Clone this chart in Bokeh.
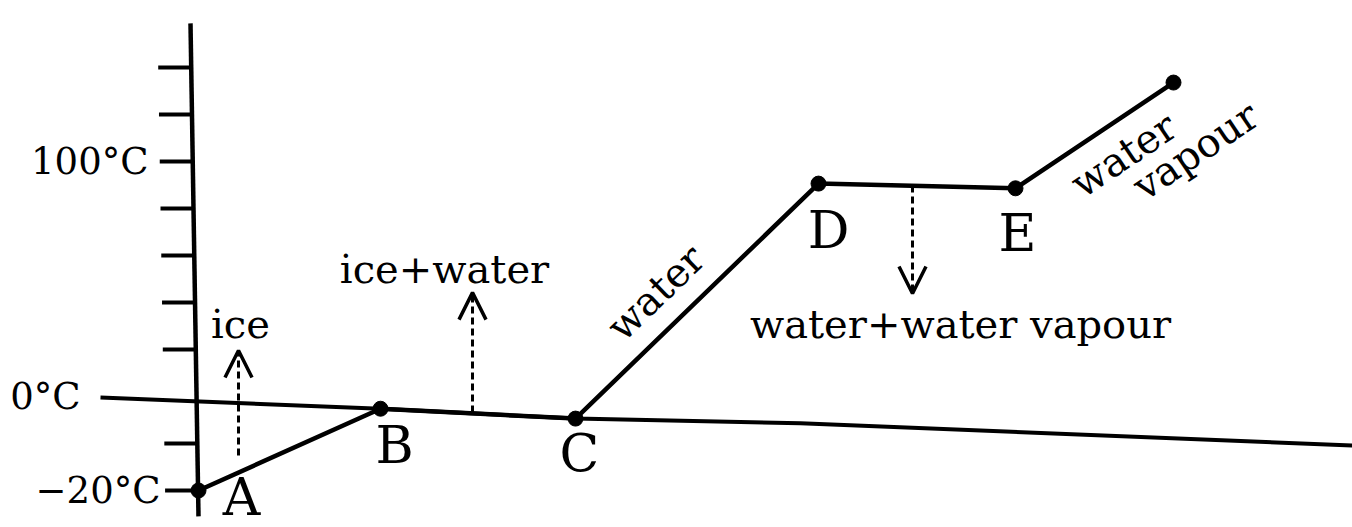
import numpy as np
from bokeh.plotting import figure
from bokeh.models import Range1d, Arrow, OpenHead, ColumnDataSource
from bokeh.core.properties import value
from bokeh.embed import file_html
from bokeh.resources import INLINE

# ---------------- data ----------------
# heating curve of water: heat supplied (arbitrary units) vs temperature level
point_names = ["A", "B", "C", "D", "E"]
heat = [0.8, 19.0, 38.5, 62.8, 82.5, 98.3]
level = [0.0, 1.74, 1.53, 6.53, 6.43, 8.68]

# the 0 °C reference line (slightly tilted in the scan)
zero_line_heat = [-9.0, 19.0, 38.5, 61.0, 117.0]
zero_line_level = [1.98, 1.74, 1.53, 1.43, 0.95]

# temperature axis
axis_heat = [0.0, 0.8]
axis_level = [9.94, -0.55]
tick_levels = [0, 1, 3, 4, 5, 6, 7, 8, 9]
label_levels = [0, 2, 7]
tick_labels = ["\u221220\u00b0C", "0\u00b0C", "100\u00b0C"]

# phase labels
phase_labels = ["ice", "ice+water", "water+water vapour"]
slanted_labels = ["water", "water", "vapour"]

# ---------------- layout / styling ----------------
W, H = 1352, 527
FONT = value("DejaVu Serif")

p = figure(width=W, height=H, output_backend="svg", toolbar_location=None,
           x_range=Range1d(-19.0, 116.2), y_range=Range1d(-0.787, 10.426),
           x_axis_location=None, y_axis_location=None, min_border=0,
           outline_line_color=None, background_fill_color="white",
           border_fill_color="white")
p.xgrid.visible = False
p.ygrid.visible = False

# axis line and ticks
p.line(axis_heat, axis_level, line_color="black", line_width=4.5)
ax_x = np.interp(tick_levels, axis_level[::-1], axis_heat[::-1])
p.segment(x0=ax_x - 3.3, y0=tick_levels, x1=ax_x, y1=tick_levels,
          line_color="black", line_width=4)

# tick labels
lab_x = [-3.0, -11.0, -4.2]
p.text(x=lab_x, y=label_levels, text=tick_labels, text_font=FONT,
       text_font_size="37px", text_align="right", text_baseline="middle",
       text_color="black")

# zero line
p.line(zero_line_heat, zero_line_level, line_color="black", line_width=4)

# heating curve
p.line(heat, level, line_color="black", line_width=4.5)
p.scatter(heat, level, size=15, color="black")

# point letters
let_x = [5.1, 20.4, 38.9, 63.8, 82.7]
let_y = [-0.14, 0.96, 0.79, 5.55, 5.47]
p.text(x=let_x, y=let_y, text=point_names, text_font=FONT,
       text_font_size="52px", text_align="center", text_baseline="middle",
       text_color="black")

# phase labels
p.text(x=[5.0, 25.4, 77.0], y=[3.55, 4.72, 3.55], text=phase_labels,
       text_font=FONT, text_font_size="40px", text_align="center",
       text_baseline="alphabetic", text_color="black")

p.text(x=[46.5, 93.3, 100.5], y=[4.21, 7.14, 7.23], text=slanted_labels,
       angle=[np.deg2rad(44), np.deg2rad(34), np.deg2rad(34)],
       text_font=FONT, text_font_size="40px", text_align="center",
       text_baseline="middle", text_color="black")

# dashed arrows
arr = ColumnDataSource(dict(x0=[4.8, 28.2, 72.2], y0=[0.745, 1.66, 6.49],
                            x1=[4.8, 28.2, 72.2], y1=[2.98, 4.21, 4.19]))
p.add_layout(Arrow(source=arr, x_start="x0", y_start="y0", x_end="x1", y_end="y1",
                   line_color="black", line_width=3, line_dash="7 4",
                   end=OpenHead(size=27, line_width=3.5, line_color="black")))

open("out.html", "w").write(file_html(p, INLINE))
